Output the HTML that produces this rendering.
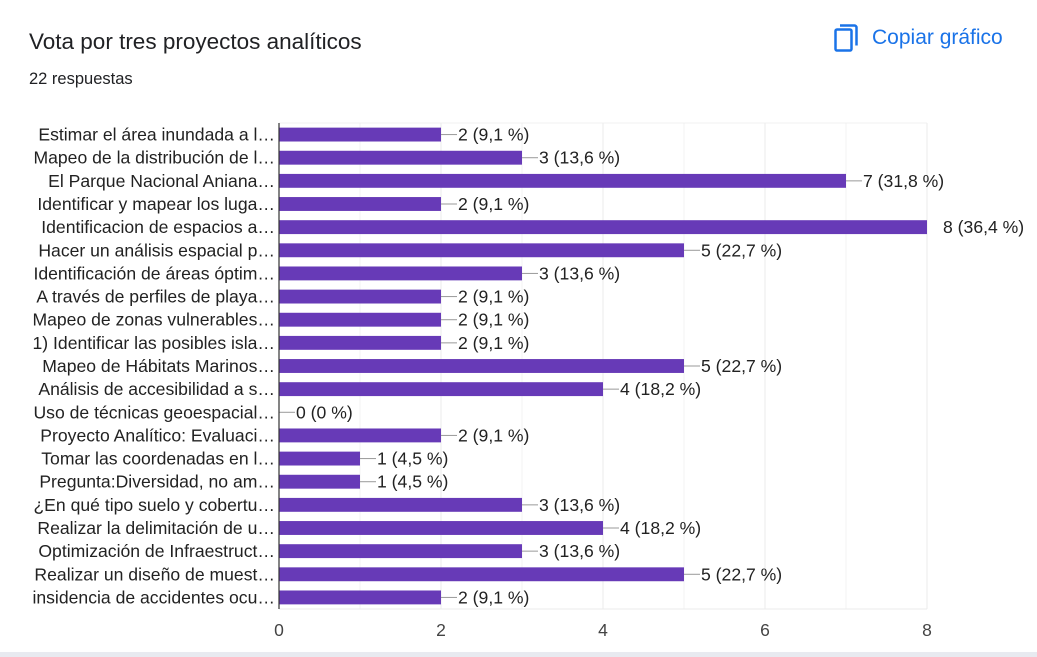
<!DOCTYPE html>
<html><head><meta charset="utf-8"><style>
body{margin:0;width:1037px;height:657px;background:#fff;font-family:"Liberation Sans",Arial,sans-serif;overflow:hidden;position:relative}
.t{position:absolute;left:29px;top:29px;font-size:22.5px;color:#202124}
.s{position:absolute;left:29px;top:70px;font-size:16.5px;color:#202124}
.cp{position:absolute;left:834px;top:24px;color:#1a73e8;font-size:21px;display:flex;align-items:center;gap:14px}
.bl{position:absolute;left:0;top:652px;width:1037px;height:5px;background:#e8eaf0}
</style></head><body>
<div class="t">Vota por tres proyectos analíticos</div>
<div class="s">22 respuestas</div>
<div class="cp"><svg width="24" height="28" viewBox="0 0 24 28"><rect x="1.5" y="5.5" width="16" height="21" rx="1.5" fill="none" stroke="#1a73e8" stroke-width="2.5"/><path d="M6 1.5h14.5a2 2 0 0 1 2 2v18" fill="none" stroke="#1a73e8" stroke-width="2.5"/></svg><span>Copiar gráfico</span></div>
<div class="bl"></div>
<svg id="c" width="1037" height="657" style="position:absolute;left:0;top:0"></svg>
<script>
const categories=["Estimar el área inundada a l…","Mapeo de la distribución de l…","El Parque Nacional Aniana…","Identificar y mapear los luga…","Identificacion de espacios a…","Hacer un análisis espacial p…","Identificación de áreas óptim…","A través de perfiles de playa…","Mapeo de zonas vulnerables…","1) Identificar las posibles isla…","Mapeo de Hábitats Marinos…","Análisis de accesibilidad a s…","Uso de técnicas geoespacial…","Proyecto Analítico: Evaluaci…","Tomar las coordenadas en l…","Pregunta:Diversidad, no am…","¿En qué tipo suelo y cobertu…","Realizar la delimitación de u…","Optimización de Infraestruct…","Realizar un diseño de muest…","insidencia de accidentes ocu…"];
const counts=[2,3,7,2,8,5,3,2,2,2,5,4,0,2,1,1,3,4,3,5,2];
const percents=["9,1","13,6","31,8","9,1","36,4","22,7","13,6","9,1","9,1","9,1","22,7","18,2","0","9,1","4,5","4,5","13,6","18,2","13,6","22,7","9,1"];
const ticks=[0,2,4,6,8];
const svg=document.getElementById('c');const NS='http://www.w3.org/2000/svg';
const x0=279,x1=927,plotTop=123,plotBot=609,xmax=8;
const X=v=>x0+(x1-x0)*v/xmax;const band=(plotBot-plotTop)/categories.length;const Y=i=>plotTop+band*(i+0.5);
function mk(t,a){const e=document.createElementNS(NS,t);for(const k in a)e.setAttribute(k,a[k]);svg.appendChild(e);return e;}
for(let v=1;v<=xmax;v++){const g=mk('line',{x1:X(v),x2:X(v),y1:plotTop,y2:plotBot,stroke:v%2?'#f3f3f3':'#ebebeb'});

}
mk('line',{x1:x0,x2:x1,y1:plotTop,y2:plotTop,stroke:'#f0f0f0'});
mk('line',{x1:x0,x2:x1,y1:plotBot,y2:plotBot,stroke:'#ebebeb'});
ticks.forEach(v=>{const t=mk('text',{x:X(v),y:636,'text-anchor':'middle','font-size':17.5,fill:'#444'});t.textContent=v;

});
categories.forEach((c,i)=>{const y=Y(i);const bh=band*0.6;
const l=mk('text',{x:275,y:y+6,'text-anchor':'end','font-size':17.6,fill:'#222'});l.textContent=c;


const w=X(counts[i])-x0;
if(w>0){const r=mk('rect',{x:x0,y:y-bh/2,width:w,height:bh,fill:'#673ab7'});

}
const ex=X(counts[i]);const full=counts[i]==xmax;
if(!full)mk('line',{x1:ex,x2:ex+16,y1:y,y2:y,stroke:'#999'});
const v=mk('text',{x:ex+(full?16:17),y:y+6,'font-size':17.6,fill:'#222'});v.textContent=counts[i]+' ('+percents[i]+' %)';

});
const ax=mk('line',{x1:x0,x2:x0,y1:plotTop,y2:plotBot,stroke:'#333','stroke-width':1.2});


</script>
</body></html>
